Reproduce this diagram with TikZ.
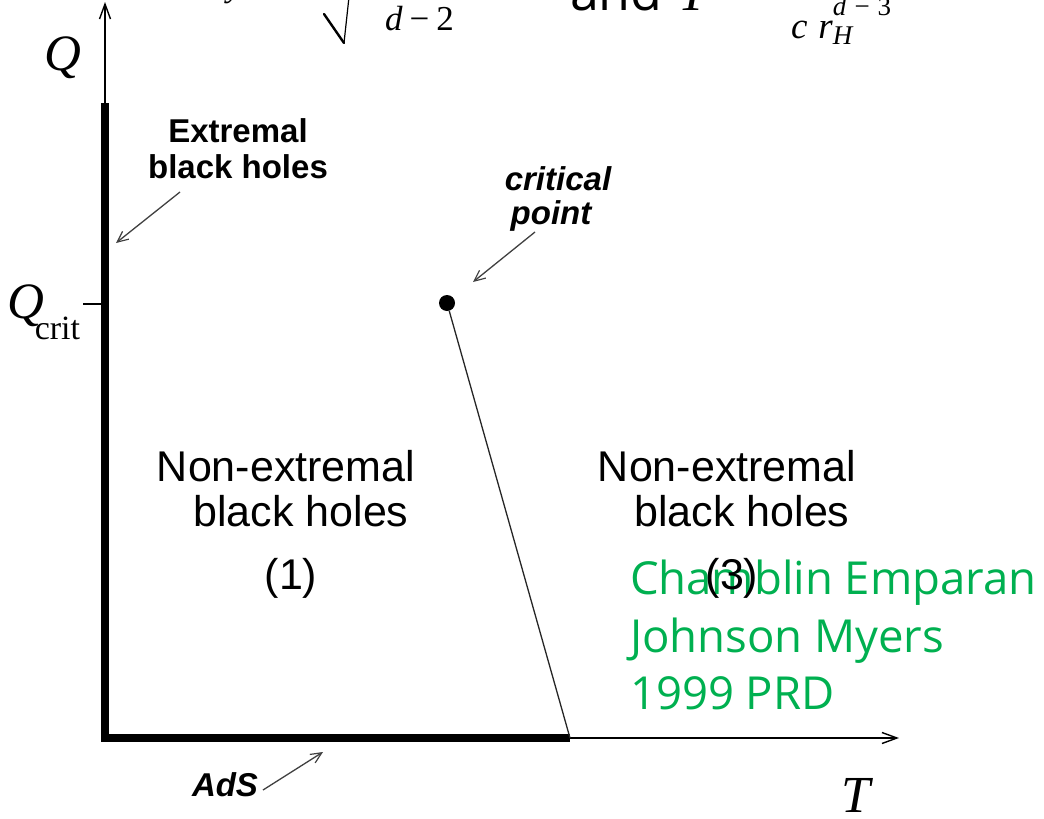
\documentclass[tikz,border=0pt]{standalone}
\usepackage{fontspec}
\setmainfont{Liberation Serif}
\newfontfamily\arialfont{Liberation Sans}
\newfontfamily\segoe{Open Sans}
\usetikzlibrary{arrows.meta}
\definecolor{pptgreen}{HTML}{00B050}
\begin{document}
\begin{tikzpicture}[x=1pt,y=-1pt,
  lbl/.style={inner sep=0pt, outer sep=0pt},
  regsans/.style={font=\arialfont\fontsize{43}{45}\selectfont},
  boldsans/.style={font=\arialfont\bfseries\fontsize{33}{36}\selectfont},
  bolditsans/.style={font=\arialfont\bfseries\itshape\fontsize{33}{34}\selectfont},
  axisline/.style={line width=1.6pt, -{Straight Barb[length=15pt,width=11pt,line width=1.4pt]}},
  callout/.style={draw=black!75, line width=1.3pt, -{Straight Barb[length=11pt,width=10pt,line width=1.2pt]}},
  tickline/.style={line width=1.6pt},
  heavy/.style={line width=7.5pt, line cap=butt, line join=miter},
  greentext/.style={font=\segoe\fontsize{45.5}{57.5}\selectfont, text=pptgreen, align=left}
]
\useasboundingbox (0,0) rectangle (1044,819);
\clip (0,0) rectangle (1044,819);

% --- cut-off formula at the top ---
\node[lbl, anchor=base west, font=\itshape\fontsize{34}{34}\selectfont] (fy) at (227,-3) {y};
\coordinate (sqA) at (324,14);
\coordinate (sqB) at (344,43);
\coordinate (sqC) at (349,-3);
\draw[line width=2.4pt, line cap=round] (sqA) -- (sqB);
\draw[line width=1.2pt] (sqB) -- (sqC);
\node[lbl, anchor=base west, font=\fontsize{35}{35}\selectfont] (dmtwo) at (385,30) {\textit{d}\hspace{7pt}−\hspace{7pt}2};
\node[lbl, anchor=base west] (andT) at (570,10) {{\segoe\fontsize{52}{52}\selectfont and}\hspace{16pt}{\itshape\fontsize{52}{52}\selectfont T}};
\node[lbl, anchor=base west, font=\fontsize{37}{37}\selectfont] (crh) at (791,38)
  {\textit{c}\hspace{11pt}\textit{r}\rlap{\raisebox{-6pt}{\fontsize{27}{27}\selectfont\textit{H}}}\raisebox{23pt}{\fontsize{27}{27}\selectfont\textit{d}\hspace{8pt}−\hspace{8pt}3}};

% --- axes ---
\coordinate (O) at (105,738);
\coordinate (Qtip) at (105,2);
\coordinate (Ttip) at (899,738);
\coordinate (Qs) at (105,103);
\coordinate (Tc) at (570,738);
\coordinate (tkA) at (83,304);
\coordinate (tkB) at (102,304);
\draw[axisline] (O) -- (Qtip);
\draw[axisline] (O) -- (Ttip);
\draw[heavy] (Qs) -- (O) -- (Tc);
\draw[tickline] (tkA) -- (tkB);

\node[lbl, anchor=base west, font=\itshape\fontsize{51}{51}\selectfont] (qlab) at (44,70) {Q};
\node[lbl, anchor=base west, font=\fontsize{51}{51}\selectfont] (qcrit) at (8,318)
  {\itshape Q\kern-10pt\raisebox{-21pt}{\upshape\fontsize{34}{34}\selectfont crit}};
\node[lbl, anchor=base west, font=\itshape\fontsize{52}{52}\selectfont] (tlab) at (841,812) {T};

% --- critical point and transition line ---
\node[circle, fill=black, minimum size=16pt, inner sep=0pt] (cp) at (447,303) {};
\draw[line width=1.3pt, black!85] (cp) -- (Tc);

% --- labels ---
\node[lbl, boldsans, align=center, anchor=north] (ext) at (238,119) {Extremal\\black holes};
\node[lbl, bolditsans, align=center, anchor=north] (crit) at (558,167) {critical\\\hspace{-14pt}point};
\node[lbl, bolditsans, anchor=base west] (ads) at (192,796) {AdS};

\coordinate (extA) at (180,192);
\coordinate (extB) at (116,243);
\coordinate (critA) at (535,232);
\coordinate (critB) at (473,282);
\coordinate (adsA) at (263,790);
\coordinate (adsB) at (323,752);
\draw[callout] (extA) -- (extB);
\draw[callout] (critA) -- (critB);
\draw[callout] (adsA) -- (adsB);

\node[lbl, greentext, anchor=north west] (cite) at (630,560) {Chamblin Emparan\\Johnson Myers\\1999 PRD};

\node[lbl, regsans, align=center, anchor=north] (reg1) at (286,450) {Non-extremal\\\hspace{30pt}black holes\\[18pt]\hspace{10pt}(1)};
\node[lbl, regsans, align=center, anchor=north] (reg3) at (727,450) {Non-extremal\\\hspace{30pt}black holes\\[18pt]\hspace{10pt}(3)};
\end{tikzpicture}
\end{document}
